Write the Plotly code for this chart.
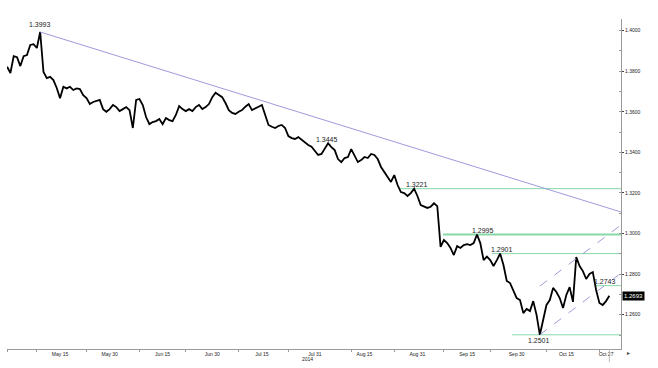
import pandas as pd
import plotly.graph_objects as go

# ---------------- data ----------------
START_DATE = "2014-04-29"
prices = [
    1.3822, 1.3791, 1.3874, 1.3869, 1.3825, 1.3874, 1.3879, 1.3929, 1.3933, 1.3914,
    1.3993, 1.3796, 1.3766, 1.3772, 1.3756, 1.3717, 1.3667, 1.3723, 1.3715, 1.3723,
    1.3707, 1.3715, 1.3712, 1.3682, 1.3667, 1.3638, 1.3648, 1.3653, 1.3658, 1.3613,
    1.3600, 1.3613, 1.3633, 1.3623, 1.3603, 1.3613, 1.3623, 1.3608, 1.3520, 1.3658,
    1.3663, 1.3633, 1.3574, 1.3539, 1.3549, 1.3554, 1.3564, 1.3539, 1.3569, 1.3559,
    1.3554, 1.3584, 1.3628, 1.3613, 1.3603, 1.3613, 1.3603, 1.3623, 1.3633, 1.3613,
    1.3623, 1.3638, 1.3672, 1.3694, 1.3682, 1.3672, 1.3643, 1.3608, 1.3594, 1.3589,
    1.3600, 1.3608, 1.3625, 1.3638, 1.3608, 1.3618, 1.3625, 1.3633, 1.3584, 1.3535,
    1.3526, 1.3520, 1.3530, 1.3535, 1.3520, 1.3480, 1.3470, 1.3466, 1.3475, 1.3461,
    1.3446, 1.3436, 1.3428, 1.3406, 1.3387, 1.3392, 1.3416, 1.3445, 1.3426, 1.3411,
    1.3367, 1.3352, 1.3372, 1.3377, 1.3416, 1.3387, 1.3352, 1.3362, 1.3377, 1.3372,
    1.3392, 1.3387, 1.3367, 1.3328, 1.3303, 1.3273, 1.3254, 1.3288, 1.3239, 1.3204,
    1.3199, 1.3185, 1.3199, 1.3221, 1.3185, 1.3140, 1.3132, 1.3126, 1.3132, 1.3149,
    1.3135, 1.2934, 1.2968, 1.2953, 1.2929, 1.2894, 1.2938, 1.2929, 1.2943, 1.2948,
    1.2943, 1.2953, 1.2995, 1.2953, 1.2869, 1.2886, 1.2869, 1.2840, 1.2869, 1.2901,
    1.2845, 1.2766, 1.2756, 1.2717, 1.2682, 1.2672, 1.2608, 1.2628, 1.2618, 1.2667,
    1.2599, 1.2501, 1.2574, 1.2648, 1.2672, 1.2732, 1.2712, 1.2682, 1.2633, 1.2697,
    1.2736, 1.2663, 1.2884, 1.2840, 1.2815, 1.2776, 1.2801, 1.2810, 1.2722, 1.2658,
    1.2648, 1.2667, 1.2693,
]
dates = pd.date_range(START_DATE, periods=len(prices), freq="D")

x_tick_dates = ["2014-05-15", "2014-05-30", "2014-06-15", "2014-06-30", "2014-07-15",
                "2014-07-31", "2014-08-15", "2014-08-31", "2014-09-15", "2014-09-30",
                "2014-10-15", "2014-10-27"]
x_tick_labels = ["May 15", "May 30", "Jun 15", "Jun 30", "Jul 15", "Jul 31",
                 "Aug 15", "Aug 31", "Sep 15", "Sep 30", "Oct 15", "Oct 27"]
x_minor_dates = ["2014-04-29", "2014-05-08", "2014-05-23", "2014-06-08", "2014-06-22",
                 "2014-07-08", "2014-07-23", "2014-08-11", "2014-08-24", "2014-09-08",
                 "2014-09-22", "2014-10-09", "2014-10-25"]
y_tick_vals = [1.26, 1.28, 1.30, 1.32, 1.34, 1.36, 1.38, 1.40]
y_tick_labels = ["1.2600", "1.2800", "1.3000", "1.3200", "1.3400", "1.3600", "1.3800", "1.4000"]

X_RANGE = ["2014-04-28 23:20", "2014-10-31 12:30"]
Y_RANGE = [1.2431, 1.4057]

# trend line (from the 1.3993 high) and the rising channel
trend_dates = ["2014-05-09", "2014-10-31 12:30"]
trend_values = [1.3993, 1.3106]
chan_up_dates = ["2014-10-07", "2014-10-31 12:30"]
chan_up_values = [1.2741, 1.3042]
chan_lo_dates = ["2014-10-07", "2014-10-31 12:30"]
chan_lo_values = [1.2501, 1.2805]

# horizontal levels: value, start date, label shift
levels = [1.3221, 1.2995, 1.2901, 1.2743, 1.2501]
level_starts = ["2014-08-25 12:00", "2014-09-07 18:00", "2014-09-22 12:00",
                "2014-10-23 16:00", "2014-09-28 14:00"]
level_label_xshift = [18, 40, 10, 10, 27]
level_widths = [1, 2, 1, 1, 1]

high_label = ("2014-05-09", 1.3993)
mid_label = ("2014-08-04", 1.3445)
last_price = 1.2693

# ---------------- figure ----------------
GREEN = "#88d8aa"
PURPLE = "#9f9bdc"
TXT = "#222222"

fig = go.Figure()
fig.add_trace(go.Scatter(x=dates, y=prices, mode="lines",
                         line=dict(color="#000000", width=1.8), hoverinfo="skip"))

shapes = []
for v, s, w in zip(levels, level_starts, level_widths):
    shapes.append(dict(type="line", xref="x", yref="y", x0=s, x1=X_RANGE[1], y0=v, y1=v,
                       line=dict(color=GREEN, width=w), layer="below"))
shapes.append(dict(type="line", xref="x", yref="y", x0=trend_dates[0], x1=trend_dates[1],
                   y0=trend_values[0], y1=trend_values[1], line=dict(color=PURPLE, width=1)))
shapes.append(dict(type="line", xref="x", yref="y", x0=chan_up_dates[0], x1=chan_up_dates[1],
                   y0=chan_up_values[0], y1=chan_up_values[1],
                   line=dict(color=PURPLE, width=1, dash="dash")))
shapes.append(dict(type="line", xref="x", yref="y", x0=chan_lo_dates[0], x1=chan_lo_dates[1],
                   y0=chan_lo_values[0], y1=chan_lo_values[1],
                   line=dict(color=PURPLE, width=1, dash="dash")))
# last-date marker below the axis
shapes.append(dict(type="line", xref="x", yref="paper", x0=dates[-1], x1=dates[-1],
                   y0=0, y1=-0.04, line=dict(color="#bbbbbb", width=1)))

ann = []
FS = 7
ann.append(dict(x=high_label[0], y=high_label[1], text=f"{high_label[1]:.4f}", showarrow=False,
                xanchor="center", yanchor="bottom", yshift=2, font=dict(size=FS, color=TXT)))
ann.append(dict(x=mid_label[0], y=mid_label[1], text=f"{mid_label[1]:.4f}", showarrow=False,
                xanchor="center", yanchor="middle", xshift=-1, yshift=4, font=dict(size=FS, color=TXT)))
for v, s, dx in zip(levels, level_starts, level_label_xshift):
    below = v == min(levels)
    ann.append(dict(x=s, y=v, text=f"{v:.4f}", showarrow=False, xanchor="center",
                    yanchor="top" if below else "bottom", xshift=dx,
                    yshift=0 if below else -1, font=dict(size=FS, color=TXT)))
ann.append(dict(x=1, xref="paper", y=last_price, yref="y", text=f"{last_price:.4f}",
                showarrow=False, xanchor="left", xshift=1, bgcolor="#000000",
                borderpad=1, font=dict(size=6, color="#ffffff")))
ann.append(dict(x="2014-07-28 21:00", y=-0.03, yref="paper", text="2014", showarrow=False,
                xanchor="center", yanchor="middle", font=dict(size=5, color=TXT)))
ann.append(dict(x=1, xref="paper", y=-0.012, yref="paper", text="▸", showarrow=False,
                xanchor="left", xshift=4, yanchor="middle", font=dict(size=6, color="#444")))

fig.update_layout(
    width=658, height=368,
    margin=dict(l=7, r=37, t=19, b=19),
    paper_bgcolor="#ffffff", plot_bgcolor="#ffffff",
    showlegend=False,
    font=dict(family="Liberation Sans, Arial, sans-serif", color=TXT),
    shapes=shapes, annotations=ann,
    xaxis=dict(range=X_RANGE, type="date", tickmode="array", tickvals=x_tick_dates,
               ticktext=x_tick_labels, ticks="", showgrid=False, zeroline=False,
               showline=True, linecolor="#9a9a9a", linewidth=1,
               tickfont=dict(size=5, color=TXT),
               minor=dict(tickmode="array", tickvals=x_minor_dates, ticks="outside",
                          ticklen=2, tickcolor="#9a9a9a", showgrid=False)),
    yaxis=dict(range=Y_RANGE, side="right", tickmode="array", tickvals=y_tick_vals,
               ticktext=y_tick_labels, ticks="outside", ticklen=2, tickcolor="#444",
               showgrid=False, zeroline=False, showline=True, linecolor="#9a9a9a",
               linewidth=1, tickfont=dict(size=5, color=TXT),
               minor=dict(dtick=0.01, tick0=1.25, ticks="inside", ticklen=2,
                          tickcolor="#9a9a9a", showgrid=False)),
)

fig.write_html("out.html", config={"displayModeBar": False},
               post_script="document.body.style.margin='0';document.body.style.padding='0';")
